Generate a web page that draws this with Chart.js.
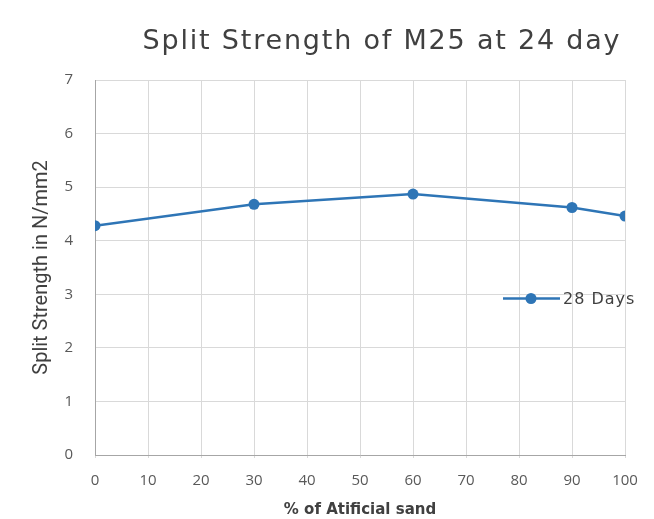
<!DOCTYPE html>
<html>
<head>
<meta charset="utf-8">
<script src="https://cdn.jsdelivr.net/npm/chart.js@4"></script>
<style>
  html, body { margin: 0; padding: 0; background: #fff; }
  #wrap { width: 654px; height: 519px; position: relative; }
</style>
</head>
<body>
<div id="wrap"><canvas id="splitChart"></canvas></div>
<script>
// Chart data
const chartTitle = 'Split Strength of M25 at 24 day';
const seriesName = '28 Days';
const pctSand = [0, 30, 60, 90, 100];
const strength28 = [4.28, 4.68, 4.87, 4.62, 4.46];
const xTicks = [0, 10, 20, 30, 40, 50, 60, 70, 80, 90, 100];
const yTicks = [0, 1, 2, 3, 4, 5, 6, 7];

const lineBlue = '#2e75b6';
const gridGray = '#d9d9d9';
const textGray = '#595959';

// Title and legend are drawn over the canvas, the way the original sits them
const overlayPlugin = {
    id: 'overlay',
    afterDraw(chart) {
        const ctx = chart.ctx;
        ctx.save();
        // title
        ctx.fillStyle = '#404040';
        ctx.font = '27px "DejaVu Sans", sans-serif';
        ctx.letterSpacing = '1.8px';
        ctx.textAlign = 'center';
        ctx.textBaseline = 'middle';
        ctx.fillText(chartTitle, 382, 42);

        // legend
        const ly = chart.chartArea.top + (chart.chartArea.bottom - chart.chartArea.top) * 0.58 + 1;
        ctx.letterSpacing = '0px';
        ctx.strokeStyle = lineBlue;
        ctx.lineWidth = 2.5;
        ctx.beginPath();
        ctx.moveTo(503, ly);
        ctx.lineTo(560, ly);
        ctx.stroke();
        ctx.fillStyle = lineBlue;
        ctx.beginPath();
        ctx.arc(531, ly, 5.5, 0, Math.PI * 2);
        ctx.fill();
        ctx.fillStyle = '#404040';
        ctx.font = '16px "DejaVu Sans", sans-serif';
        ctx.letterSpacing = '1px';
        ctx.textAlign = 'left';
        ctx.fillText(seriesName, 563, ly + 1);
        ctx.restore();
    }
};

const ctx = document.getElementById('splitChart');
new Chart(ctx.getContext('2d'), {
    type: 'line',
    data: {
        datasets: [{
            label: seriesName,
            data: pctSand.map((p, i) => ({ x: p, y: strength28[i] })),
            borderColor: lineBlue,
            backgroundColor: lineBlue,
            borderWidth: 2.5,
            pointRadius: 5.5,
            pointHoverRadius: 5.5,
            pointBorderWidth: 0,
            tension: 0
        }]
    },
    options: {
        responsive: true,
        maintainAspectRatio: false,
        animation: false,
        layout: {
            padding: { top: 80, right: 29, bottom: 0, left: 30 }
        },
        plugins: {
            legend: { display: false },
            title: { display: false },
            tooltip: { enabled: false }
        },
        scales: {
            x: {
                type: 'linear',
                min: 0,
                max: 100,
                afterBuildTicks: scale => { scale.ticks = xTicks.map(v => ({ value: v })); },
                afterFit: scale => { scale.height = 64; },
                grid: { color: gridGray, lineWidth: 1, tickLength: 3, drawTicks: true },
                border: { color: '#a6a6a6', width: 1 },
                ticks: {
                    color: textGray,
                    padding: 14,
                    maxRotation: 0,
                    font: { family: '"Open Sans", sans-serif', size: 15 }
                },
                title: {
                    display: true,
                    text: '% of Atificial sand',
                    color: '#404040',
                    padding: { top: 3, bottom: 0 },
                    font: { family: '"DejaVu Sans", sans-serif', size: 15, weight: 'bold' }
                }
            },
            y: {
                min: 0,
                max: 7,
                afterBuildTicks: scale => { scale.ticks = yTicks.map(v => ({ value: v })); },
                afterFit: scale => { scale.width = 65; },
                grid: { color: gridGray, lineWidth: 1, drawTicks: false },
                border: { color: '#a6a6a6', width: 1 },
                ticks: {
                    color: textGray,
                    padding: 22,
                    font: { family: '"Open Sans", sans-serif', size: 15 }
                },
                title: {
                    display: true,
                    text: 'Split Strength in N/mm2',
                    color: '#404040',
                    padding: { top: 0, bottom: 4 },
                    font: { family: '"Liberation Sans Narrow", "Roboto", sans-serif', size: 20 }
                }
            }
        }
    },
    plugins: [overlayPlugin]
});
</script>
</body>
</html>
